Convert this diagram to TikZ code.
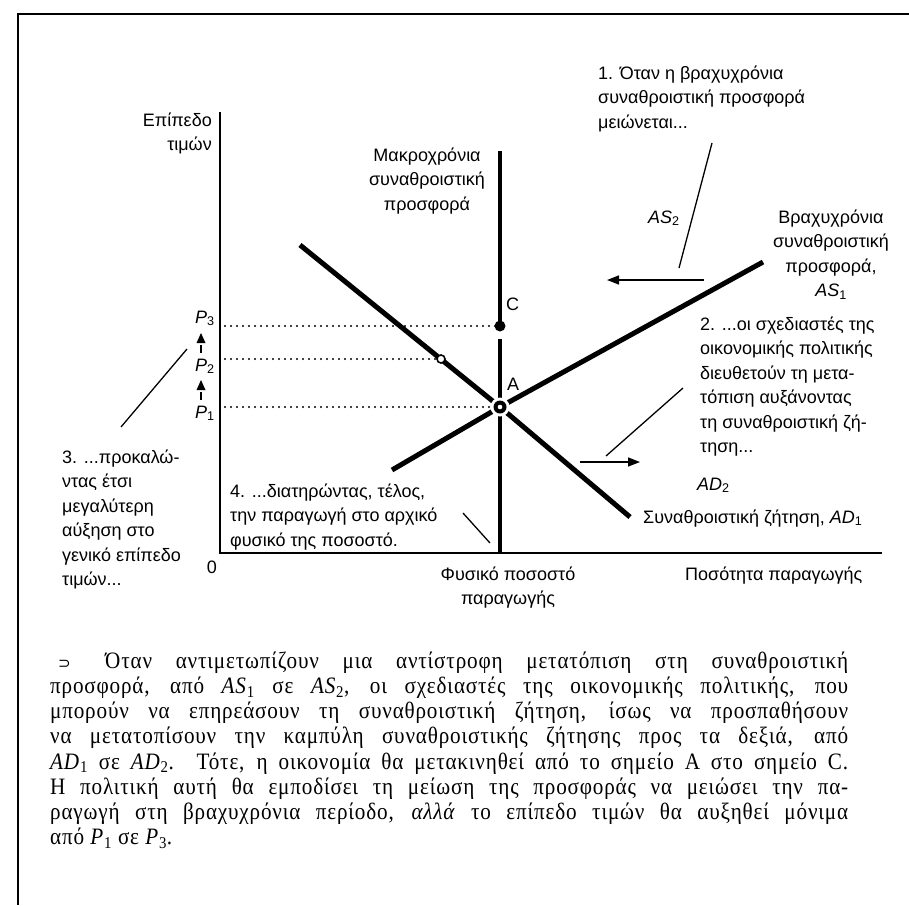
\documentclass[tikz,border=0pt]{standalone}
\usepackage{fontspec}
\setmainfont{Liberation Sans}
\newfontfamily\capfont[FakeStretch=0.9,LetterSpace=3.5]{Liberation Serif}
\newfontfamily\symfont{DejaVu Sans}
\usetikzlibrary{arrows.meta}
% italic variable with upright subscript
\newcommand\vsub[2]{\textit{#1}\textsubscript{#2}}
% strut fixing the top of the first line of a label
\newcommand\tp{\rule{0pt}{15pt}}
\newcommand\ctp{\rule{0pt}{17pt}}

\begin{document}
\begin{tikzpicture}[x=1pt,y=-1pt,
  lbl/.style={font=\fontsize{18}{24.5}\selectfont, inner sep=0pt},
  captext/.style={font=\capfont\fontsize{23.5}{25.2}\selectfont, inner sep=0pt, align=left},
  curve/.style={line width=5pt},
  lrline/.style={line width=4pt},
  axisline/.style={line width=1.6pt},
  leader/.style={line width=1.3pt},
  guide/.style={line width=2.2pt, line cap=round, dash pattern=on 0pt off 6pt},
  shiftarrow/.style={line width=1.5pt, -{Triangle[length=12pt,width=9pt]}},
]
\useasboundingbox (0,0) rectangle (909,905);
\fill[white] (0,0) rectangle (909,905);

% ---- frame ----
\coordinate (fbl) at (18,905);
\coordinate (ftl) at (18,14);
\coordinate (ftr) at (909,14);
\draw[line width=2pt] (fbl) -- (ftl) -- (ftr);

% ---- axes ----
\coordinate (O) at (220,553);
\coordinate (ytop) at (220,112);
\coordinate (xend) at (882,553);
\draw[axisline] (ytop) -- (O) -- (xend);

% ---- key points ----
\coordinate (A) at (500,407);
\coordinate (C) at (500,326);
\coordinate (B) at (441,359);
\coordinate (p3) at (225,326);
\coordinate (p2) at (225,359);
\coordinate (p1) at (225,407);

% price guides
\draw[guide] (p3) -- (C);
\draw[guide] (p2) -- (B);
\draw[guide] (p1) -- (A);

% ---- curves ----
\coordinate (ad1s) at (300,245);
\coordinate (ad1e) at (630,517);
\coordinate (as1s) at (392,470);
\coordinate (as1e) at (763,262);
\coordinate (lrt) at (500,151);
\coordinate (Cb) at (500,339);
\coordinate (lrb) at (500,553);
\draw[curve] (ad1s) -- (A) -- (ad1e);
\draw[curve] (as1s) -- (A) -- (as1e);
\draw[lrline] (lrt) -- (C);
\draw[lrline] (Cb) -- (lrb);

% equilibrium markers
\fill[white] (A) circle (9.5pt);
\fill (A) circle (6.5pt);
\fill[white] (A) circle (2.3pt);
\fill (C) circle (5.5pt);
\draw[line width=1.6pt, fill=white] (B) circle (4pt);

% ---- shifts and leaders ----
\coordinate (l1a) at (712,143);
\coordinate (l1b) at (679,268);
\coordinate (s1a) at (704,280);
\coordinate (s1b) at (607,280);
\coordinate (l2a) at (683,388);
\coordinate (l2b) at (606,456);
\coordinate (s2a) at (580,462);
\coordinate (s2b) at (640,462);
\coordinate (l3a) at (187,349);
\coordinate (l3b) at (121,427);
\coordinate (l4a) at (463,513);
\coordinate (l4b) at (490,543);
\draw[leader] (l1a) -- (l1b);
\draw[shiftarrow] (s1a) -- (s1b);
\draw[leader] (l2a) -- (l2b);
\draw[shiftarrow] (s2a) -- (s2b);
\draw[leader] (l3a) -- (l3b);
\draw[leader] (l4a) -- (l4b);

% price rise marks on the vertical axis
\coordinate (u1a) at (201,400);
\coordinate (u1b) at (201,392);
\coordinate (u2a) at (201,353);
\coordinate (u2b) at (201,345);
\draw[line width=1.2pt] (u1a) -- (u1b);
\draw[line width=1.2pt] (u2a) -- (u2b);
\fill (201,380) -- (196.5,390) -- (205.5,390) -- cycle;
\fill (201,333) -- (196.5,343) -- (205.5,343) -- cycle;

% ---- labels ----
\node[lbl, anchor=north east, align=right] (ylab) at (212,111) {\tp Επίπεδο\\τιμών};
\node[lbl, anchor=north, align=center] (lraslab) at (427,146) {\tp Μακροχρόνια\\συναθροιστική\\προσφορά};
\node[lbl, anchor=north west, align=left] (note1) at (598,64) {\tp 1. Όταν η βραχυχρόνια\\συναθροιστική προσφορά\\μειώνεται...};
\node[lbl, anchor=base west] (as2lab) at (648,223) {\vsub{AS}{2}};
\node[lbl, anchor=north, align=center] (sraslab) at (831,208) {\tp Βραχυχρόνια\\συναθροιστική\\προσφορά,\\\vsub{AS}{1}};
\node[lbl, anchor=north west, align=left] (note2) at (700,315) {\tp 2. ...οι σχεδιαστές της\\οικονομικής πολιτικής\\διευθετούν τη μετα-\\τόπιση αυξάνοντας\\τη συναθροιστική ζή-\\τηση...};
\node[lbl, anchor=base west] (ad2lab) at (697,490) {\vsub{AD}{2}};
\node[lbl, anchor=base west] (ad1lab) at (643,523) {Συναθροιστική ζήτηση, \vsub{AD}{1}};
\node[lbl, anchor=north west, align=left] (note3) at (62,448) {\tp 3. ...προκαλώ-\\ντας έτσι\\μεγαλύτερη\\αύξηση στο\\γενικό επίπεδο\\τιμών...};
\node[lbl, anchor=north west, align=left] (note4) at (230,482) {\tp 4. ...διατηρώντας, τέλος,\\την παραγωγή στο αρχικό\\φυσικό της ποσοστό.};
\node[lbl, anchor=base] (zero) at (212,573) {0};
\node[lbl, anchor=north, align=center] (natlab) at (508,565) {\tp Φυσικό ποσοστό\\παραγωγής};
\node[lbl, anchor=base west] (xlab) at (685,580) {Ποσότητα παραγωγής};
\node[lbl, anchor=base west] (P3) at (195,323) {\vsub{P}{3}};
\node[lbl, anchor=base west] (P2) at (195,371) {\vsub{P}{2}};
\node[lbl, anchor=base west] (P1) at (195,418) {\vsub{P}{1}};
\node[lbl, anchor=base west] (Clab) at (506,310) {C};
\node[lbl, anchor=base west] (Alab) at (507,390) {A};

% ---- caption ----
\node[captext, anchor=north west] (caption) at (50,651) {%
\ctp\makebox[55pt][l]{\hspace{8pt}{\symfont\fontsize{15}{15}\selectfont ⊃}}\makebox[743pt][s]{Όταν αντιμετωπίζουν μια αντίστροφη μετατόπιση στη συναθροιστική}\\
\makebox[798pt][s]{προσφορά, από \vsub{AS}{1} σε \vsub{AS}{2}, οι σχεδιαστές της οικονομικής πολιτικής, που}\\
\makebox[798pt][s]{μπορούν να επηρεάσουν τη συναθροιστική ζήτηση, ίσως να προσπαθήσουν}\\
\makebox[798pt][s]{να μετατοπίσουν την καμπύλη συναθροιστικής ζήτησης προς τα δεξιά, από}\\
\makebox[798pt][s]{\vsub{AD}{1} σε \vsub{AD}{2}. Τότε, η οικονομία θα μετακινηθεί από το σημείο A στο σημείο C.}\\
\makebox[798pt][s]{Η πολιτική αυτή θα εμποδίσει τη μείωση της προσφοράς να μειώσει την πα-}\\
\makebox[798pt][s]{ραγωγή στη βραχυχρόνια περίοδο, \textit{αλλά} το επίπεδο τιμών θα αυξηθεί μόνιμα}\\
από \vsub{P}{1} σε \vsub{P}{3}.};
\end{tikzpicture}
\end{document}
